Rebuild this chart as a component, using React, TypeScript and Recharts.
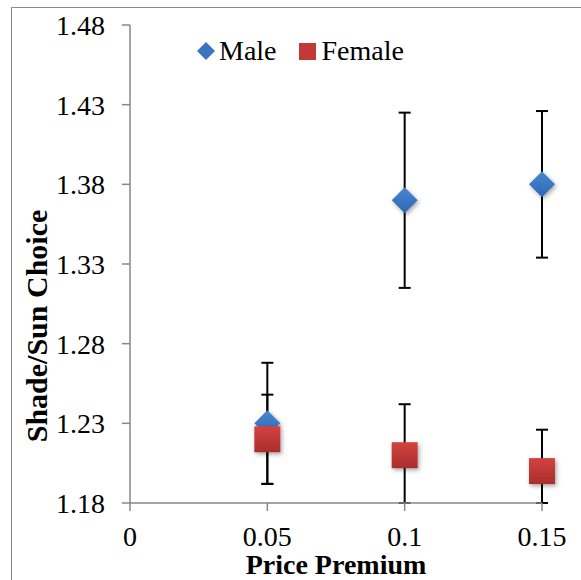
import React from 'react';
import { ScatterChart, Scatter, XAxis, YAxis, ErrorBar, Legend } from 'recharts';

const prices = [0.05, 0.1, 0.15];
const maleMeans = [1.23, 1.37, 1.38];
const maleErrors = [0.038, 0.055, 0.046];
const femaleMeans = [1.22, 1.21, 1.2];
const femaleErrors = [0.028, 0.032, 0.026];
const xTicks = [0, 0.05, 0.1, 0.15];
const yTicks = [1.18, 1.23, 1.28, 1.33, 1.38, 1.43, 1.48];

const Y_MIN = 1.18;
const Y_MAX = 1.48;
const FONT = '"Times New Roman", Times, "Liberation Serif", "DejaVu Serif", serif';

const build = (means: number[], errs: number[]) =>
  prices.map((x, i) => ({
    x,
    y: means[i],
    err: [Math.min(errs[i], means[i] - Y_MIN), errs[i]],
  }));

const maleData = build(maleMeans, maleErrors);
const femaleData = build(femaleMeans, femaleErrors);

const Diamond = (props: any) => {
  const { cx, cy } = props;
  const r = 13;
  return (
    <g>
      <defs>
        <linearGradient id="gBlue" x1="0" y1="0" x2="0" y2="1">
          <stop offset="0%" stopColor="#4a86d2" />
          <stop offset="100%" stopColor="#2f67b3" />
        </linearGradient>
        <filter id="shd" x="-50%" y="-50%" width="200%" height="200%">
          <feDropShadow dx="1.5" dy="2" stdDeviation="2" floodColor="#000" floodOpacity="0.35" />
        </filter>
      </defs>
      <polygon
        points={`${cx},${cy - r} ${cx + r},${cy} ${cx},${cy + r} ${cx - r},${cy}`}
        fill="url(#gBlue)"
        filter="url(#shd)"
      />
    </g>
  );
};

const Square = (props: any) => {
  const { cx, cy } = props;
  const r = 13;
  return (
    <g>
      <defs>
        <linearGradient id="gRed" x1="0" y1="0" x2="0" y2="1">
          <stop offset="0%" stopColor="#d2433f" />
          <stop offset="100%" stopColor="#a92d2d" />
        </linearGradient>
        <filter id="shd2" x="-50%" y="-50%" width="200%" height="200%">
          <feDropShadow dx="1.5" dy="2" stdDeviation="2" floodColor="#000" floodOpacity="0.35" />
        </filter>
      </defs>
      <rect x={cx - r} y={cy - r} width={2 * r} height={2 * r} fill="url(#gRed)" filter="url(#shd2)" />
    </g>
  );
};

const Empty = () => <g />;

const LegendContent = () => (
  <div style={{ display: 'flex', alignItems: 'center', fontFamily: FONT, fontSize: 28, color: '#000', lineHeight: '30px', whiteSpace: 'nowrap' }}>
    <svg width={18} height={18} style={{ marginRight: 4 }}>
      <polygon points="9,0 18,9 9,18 0,9" fill="#3a75c2" />
    </svg>
    <span>Male</span>
    <svg width={17} height={17} style={{ marginLeft: 22, marginRight: 6 }}>
      <rect x={0} y={0} width={17} height={17} fill="#c23a38" />
    </svg>
    <span>Female</span>
  </div>
);

const YTitle = (props: any) => {
  const vb = props.viewBox || { x: 0, y: 0, width: 0, height: 0 };
  const x = vb.x + 36;
  const y = vb.y + vb.height / 2 + 62;
  return (
    <text
      x={x}
      y={y}
      transform={`rotate(-90, ${x}, ${y})`}
      textAnchor="middle"
      dominantBaseline="central"
      fontFamily={FONT}
      fontWeight="bold"
      fontSize={30}
      fill="#000"
    >
      Shade/Sun Choice
    </text>
  );
};

export default function App() {
  const axisColor = '#878787';
  const tick = { fill: '#000', fontSize: 28, fontFamily: FONT };
  return (
    <div style={{ position: 'absolute', left: 0, top: 0, width: 581, height: 580, overflow: 'hidden', background: '#fff', fontFamily: FONT }}>
      <div
        style={{
          position: 'absolute',
          left: 11,
          top: 7,
          width: 700,
          height: 700,
          border: '1.5px solid #8a8a8a',
          boxSizing: 'border-box',
        }}
      />
      <div style={{ position: 'absolute', left: 0, top: 0 }}>
        <ScatterChart width={581} height={580} margin={{ top: 25, right: 39, bottom: 0, left: 0 }} style={{ fontFamily: FONT }}>
          <XAxis
            type="number"
            dataKey="x"
            domain={[0, 0.15]}
            ticks={xTicks}
            tickFormatter={(v: number) => String(v)}
            height={77}
            stroke={axisColor}
            strokeWidth={1.5}
            tickSize={8}
            tickMargin={15}
            tick={tick}
            interval={0}
            label={{
              value: 'Price Premium',
              position: 'insideBottom',
              offset: 6,
              fill: '#000',
              fontSize: 28,
              fontWeight: 'bold',
              fontFamily: FONT,
            }}
          />
          <YAxis
            type="number"
            dataKey="y"
            domain={[Y_MIN, Y_MAX]}
            ticks={yTicks}
            tickFormatter={(v: number) => v.toFixed(2)}
            width={130}
            stroke={axisColor}
            strokeWidth={1.5}
            tickSize={8}
            tickMargin={17}
            tick={tick}
            interval={0}
            label={{ content: YTitle } as any}
          />
          <Legend
            layout="horizontal"
            verticalAlign="middle"
            align="center"
            content={LegendContent as any}
            wrapperStyle={{ position: 'absolute', top: 36, left: 197, width: 'auto' }}
          />
          <Scatter name="MaleErr" data={maleData} shape={Empty} isAnimationActive={false} legendType="none">
            <ErrorBar dataKey="err" direction="y" width={6} stroke="#000" strokeWidth={2} isAnimationActive={false} />
          </Scatter>
          <Scatter name="FemaleErr" data={femaleData} shape={Empty} isAnimationActive={false} legendType="none">
            <ErrorBar dataKey="err" direction="y" width={6} stroke="#000" strokeWidth={2} isAnimationActive={false} />
          </Scatter>
          <Scatter name="Male" data={maleData} shape={Diamond} isAnimationActive={false} />
          <Scatter name="Female" data={femaleData} shape={Square} isAnimationActive={false} />
        </ScatterChart>
      </div>
    </div>
  );
}
